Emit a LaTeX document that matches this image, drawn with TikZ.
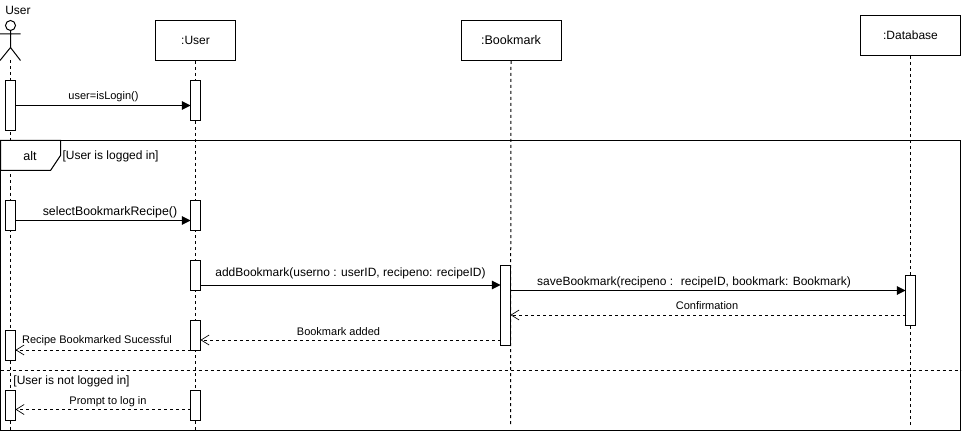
\documentclass[tikz,border=0pt]{standalone}
\usepackage{fontspec}
\setmainfont{Liberation Sans}
\usetikzlibrary{arrows.meta}
\tikzset{
  x=0.75pt,y=-0.75pt,
  every path/.style={line width=0.75pt},
  obj/.style={draw,fill=white,minimum width=60pt,minimum height=30pt,inner sep=0pt,font=\fontsize{9}{10}\selectfont},
  objw/.style={obj,minimum width=75pt},
  act/.style={draw,fill=white,minimum width=7.5pt,inner sep=0pt,outer sep=0pt},
  life/.style={dash pattern=on 2.25pt off 2.25pt},
  call/.style={-{Triangle[length=6.5pt,width=6.5pt]}},
  reply/.style={dash pattern=on 2.25pt off 2.25pt,-{Straight Barb[length=6pt,width=7.5pt,line width=0.5pt]}},
  lab/.style={inner sep=0pt,font=\fontsize{8.25}{10}\selectfont},
  labb/.style={inner sep=0pt,font=\fontsize{9}{10}\selectfont},
  frametext/.style={inner sep=0pt,anchor=west,font=\fontsize{9}{10}\selectfont},
}
\begin{document}
\begin{tikzpicture}
\useasboundingbox (0,0) rectangle (963,431);
\fill[white] (0,0) rectangle (963,431);
% actor
\node[inner sep=0pt,font=\fontsize{9}{10}\selectfont] (actorname) at (18,10) {User};
\node[draw,circle,minimum size=7.5pt,inner sep=0pt,outer sep=0pt] (head) at (10.5,25.5) {};
\coordinate (hip) at (10.5,47.5);
\coordinate (armL) at (0,34);
\coordinate (armR) at (20.5,34);
\coordinate (legL) at (0,60.5);
\coordinate (legR) at (20.5,60.5);
\coordinate (actorfoot) at (10.5,60.5);
\draw (head.south) -- (hip) (armL) -- (armR) (legL) -- (hip) -- (legR);
% objects
\node[obj] (ou) at (195.5,40.5) {:User};
\node[objw] (ob) at (511,40.5) {\fontsize{9.4}{10}\selectfont:Bookmark};
\node[objw] (od) at (910.5,35.5) {:Database};
% lifeline ends
\coordinate (ea) at (10.5,430);
\coordinate (eu) at (195.5,430);
\coordinate (eb) at (510.5,425);
\coordinate (ed) at (910.5,425);
\draw[life] (actorfoot) -- (ea);
\draw[life] (ou.south) -- (eu);
\draw[life] (ob.south) -- (eb);
\draw[life] (od.south) -- (ed);
% frame
\coordinate (fa) at (0.5,140.5);
\coordinate (fb) at (960.5,430.5);
\draw (fa) rectangle (fb);
\coordinate (t1) at (60.5,140.5);
\coordinate (t2) at (60.5,155.5);
\coordinate (t3) at (50.5,170.5);
\coordinate (t4) at (0.5,170.5);
\draw[fill=white] (fa) -- (t1) -- (t2) -- (t3) -- (t4) -- cycle;
\node[inner sep=0pt,font=\fontsize{9.4}{10}\selectfont] (alt) at (30,156) {alt};
\node[frametext] (g1) at (62,156) {[User is logged in]};
\coordinate (d1) at (0.5,370.5);
\coordinate (d2) at (960.5,370.5);
\draw[life] (d1) -- (d2);
\node[frametext] (g2) at (13,381) {[User is not logged in]};
% activations
\node[act,minimum height=37.5pt] (a1) at (10.5,105.5) {};
\node[act,minimum height=30pt] (u1) at (195.5,100.5) {};
\node[act,minimum height=22.5pt] (a2) at (10.5,215.5) {};
\node[act,minimum height=22.5pt] (u2) at (195.5,215.5) {};
\node[act,minimum height=22.5pt] (u3) at (195.5,275.5) {};
\node[act,minimum height=60pt] (b1) at (505.5,305.5) {};
\node[act,minimum height=37.5pt] (d1a) at (910.5,300.5) {};
\node[act,minimum height=22.5pt] (u4) at (195.5,335.5) {};
\node[act,minimum height=22.5pt] (a3) at (10.5,345.5) {};
\node[act,minimum height=22.5pt] (a4) at (10.5,405.5) {};
\node[act,minimum height=22.5pt] (u5) at (195.5,405.5) {};
% message heights
\coordinate (m1) at (0,105.5);
\coordinate (m2) at (0,220.5);
\coordinate (m3) at (0,285);
\coordinate (m4) at (0,290.5);
\coordinate (m5) at (0,315);
\coordinate (m6) at (0,340);
\coordinate (m7) at (0,350);
\coordinate (m8) at (0,409.5);
\draw[call] (a1.east |- m1) -- (u1.west |- m1);
\draw[call] (a2.east |- m2) -- (u2.west |- m2);
\draw[call] (u3.east |- m3) -- (b1.west |- m3);
\draw[call] (b1.east |- m4) -- (d1a.west |- m4);
\draw[reply] (d1a.west |- m5) -- (b1.east |- m5);
\draw[reply] (b1.west |- m6) -- (u4.east |- m6);
\draw[reply] (u4.west |- m7) -- (a3.east |- m7);
\draw[reply] (u5.west |- m8) -- (a4.east |- m8);
% labels
\node[lab] (l1) at (103.5,97) {user=isLogin()};
\node[labb,font=\fontsize{9.25}{10}\selectfont] (l2) at (110,212) {selectBookmarkRecipe()};
\node[labb] (l3) at (350.5,273) {addBookmark(userno : userID, recipeno: recipeID)};
\node[labb] (l4) at (694,282) {saveBookmark(recipeno :~ recipeID, bookmark: Bookmark)};
\node[lab] (l5) at (707,306) {Confirmation};
\node[lab] (l6) at (338.5,332) {Bookmark added};
\node[lab] (l7) at (97,341) {Recipe Bookmarked Sucessful};
\node[lab] (l8) at (108,402) {Prompt to log in};
\end{tikzpicture}
\end{document}
